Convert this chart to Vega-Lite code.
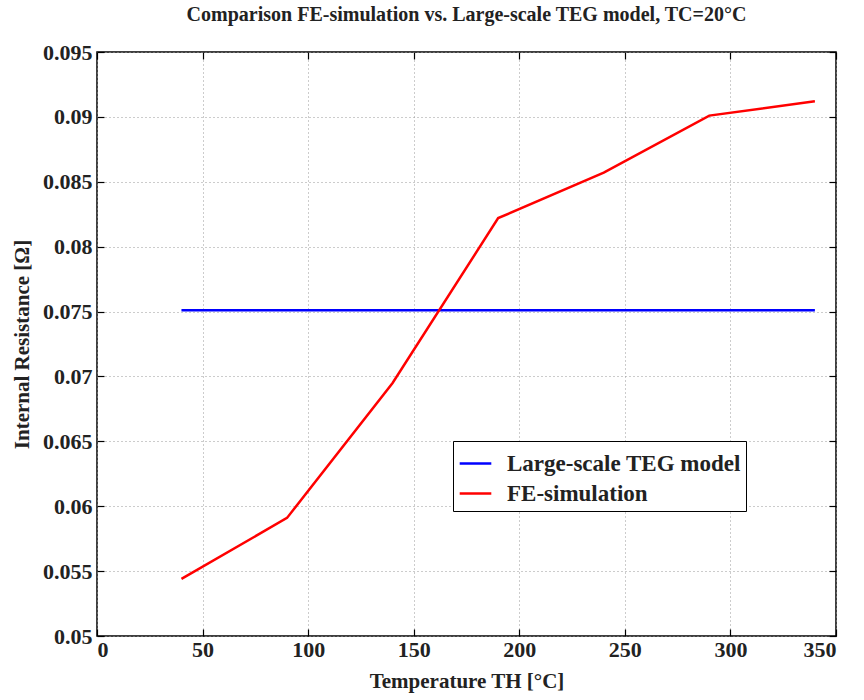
{
  "$schema": "https://vega.github.io/schema/vega-lite/v6.json",
  "autosize": "none",
  "width": 739,
  "height": 584,
  "padding": {"left": 97, "top": 52, "right": 28, "bottom": 64},
  "background": "white",
  "title": {
    "text": "Comparison FE-simulation vs. Large-scale TEG model, TC=20°C",
    "font": "Liberation Serif",
    "fontSize": 20,
    "fontWeight": "bold",
    "color": "#222",
    "offset": 16,
    "anchor": "middle"
  },
  "config": {
    "view": {"stroke": "black", "strokeWidth": 1.5},
    "axis": {
      "labelFont": "Liberation Serif",
      "labelFontSize": 22,
      "labelFontWeight": "bold",
      "labelColor": "#222",
      "titleFont": "Liberation Serif",
      "titleFontSize": 21,
      "titleFontWeight": "bold",
      "titleColor": "#222",
      "domain": false,
      "tickColor": "black",
      "tickSize": -7,
      "tickWidth": 1.2,
      "gridColor": "#999",
      "gridDash": [1, 3],
      "gridWidth": 1
    }
  },
  "data": {
    "values": [
      {"series": "Large-scale TEG model", "T": 40, "R": 0.0751},
      {"series": "Large-scale TEG model", "T": 340, "R": 0.0751},
      {"series": "FE-simulation", "T": 40, "R": 0.0544},
      {"series": "FE-simulation", "T": 90, "R": 0.0591},
      {"series": "FE-simulation", "T": 140, "R": 0.0695},
      {"series": "FE-simulation", "T": 190, "R": 0.0822},
      {"series": "FE-simulation", "T": 240, "R": 0.0857},
      {"series": "FE-simulation", "T": 290, "R": 0.0901},
      {"series": "FE-simulation", "T": 340, "R": 0.0912}
    ]
  },
  "layer": [
    {
      "mark": {"type": "line", "strokeWidth": 2.5},
      "encoding": {
        "x": {
          "field": "T", "type": "quantitative",
          "scale": {"domain": [0, 350], "nice": false},
          "axis": {"title": "Temperature TH [°C]", "values": [0, 50, 100, 150, 200, 250, 300, 350], "labelPadding": 10, "titlePadding": 10, "grid": true}
        },
        "y": {
          "field": "R", "type": "quantitative",
          "scale": {"domain": [0.05, 0.095], "nice": false, "zero": false},
          "axis": {"title": "Internal Resistance [Ω]", "values": [0.05, 0.055, 0.06, 0.065, 0.07, 0.075, 0.08, 0.085, 0.09, 0.095], "format": ".3~f", "labelPadding": 12, "titlePadding": 10, "grid": true}
        },
        "color": {
          "field": "series", "type": "nominal",
          "scale": {"domain": ["Large-scale TEG model", "FE-simulation"], "range": ["#0000ff", "#ff0000"]},
          "legend": {
            "title": null,
            "orient": "none",
            "legendX": 356,
            "legendY": 389,
            "symbolType": "stroke",
            "symbolSize": 1000,
            "symbolStrokeWidth": 2.5,
            "labelFont": "Liberation Serif",
            "labelFontSize": 23,
            "labelFontWeight": "bold",
            "labelColor": "#222",
            "strokeColor": "black",
            "fillColor": "white",
            "padding": 5,
            "rowPadding": 0,
            "labelLimit": 400,
            "labelOffset": 14
          }
        },
        "order": {"field": "T"}
      }
    },
    {
      "mark": {"type": "point", "opacity": 0},
      "encoding": {
        "x": {"field": "T", "type": "quantitative", "axis": {"orient": "top", "labels": false, "title": null, "grid": false, "values": [0, 50, 100, 150, 200, 250, 300, 350]}},
        "y": {"field": "R", "type": "quantitative", "axis": {"orient": "right", "labels": false, "title": null, "grid": false, "values": [0.05, 0.055, 0.06, 0.065, 0.07, 0.075, 0.08, 0.085, 0.09, 0.095]}}
      }
    }
  ],
  "resolve": {"axis": {"x": "independent", "y": "independent"}}
}
